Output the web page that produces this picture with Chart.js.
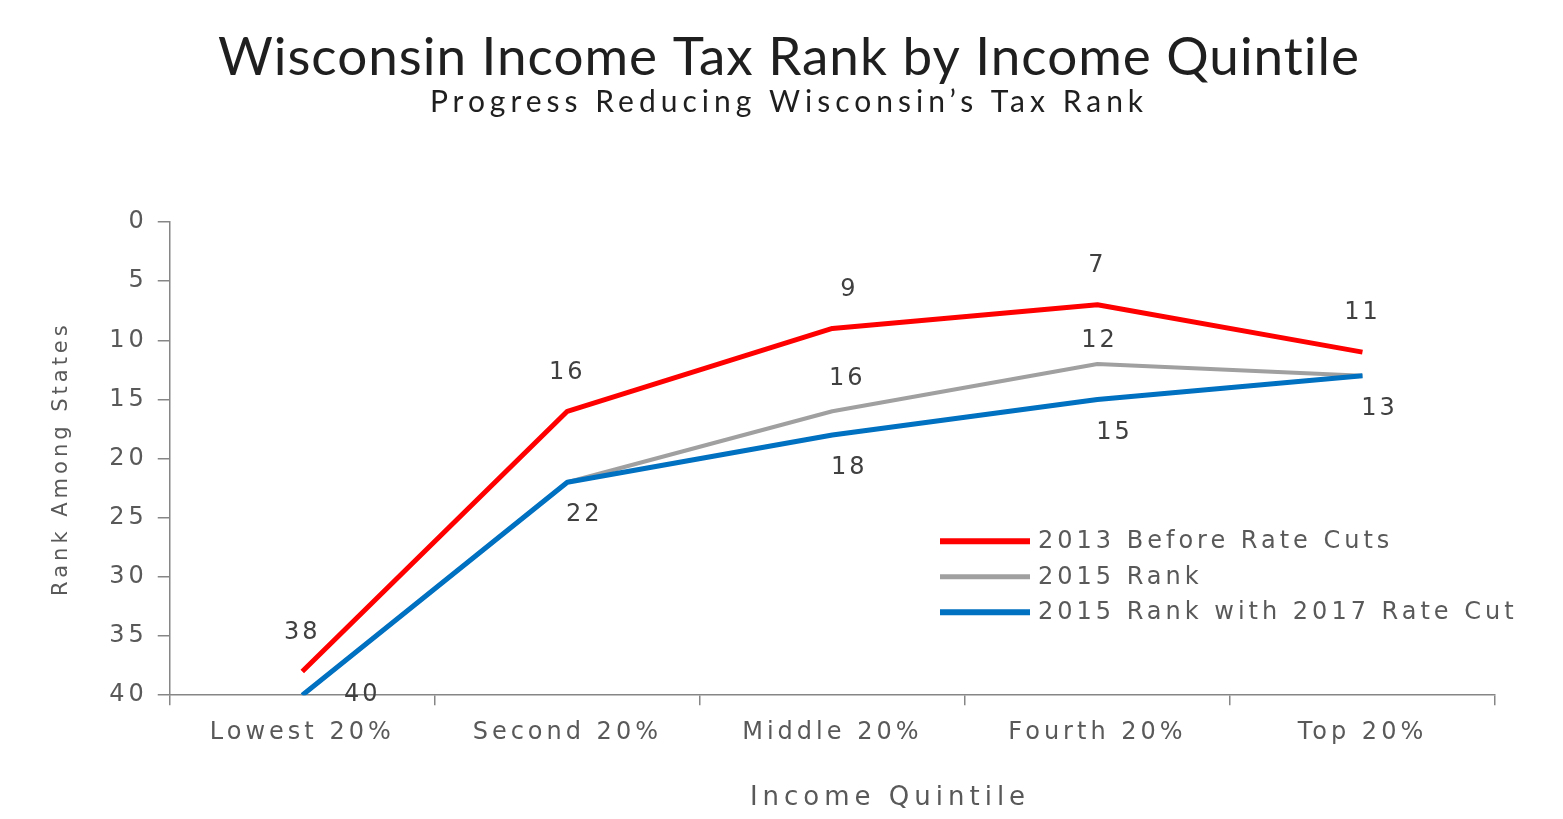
<!DOCTYPE html>
<html>
<head>
<meta charset="utf-8">
<title>Wisconsin Income Tax Rank by Income Quintile</title>
<script src="https://cdn.jsdelivr.net/npm/chart.js"></script>
<style>
  html, body { margin: 0; padding: 0; background: #fff; }
  #wrap { width: 1563px; height: 819px; }
</style>
</head>
<body>
<div id="wrap"><canvas id="myChart"></canvas></div>
<script>
// values
var categories = ['Lowest 20%', 'Second 20%', 'Middle 20%', 'Fourth 20%', 'Top 20%'];
var seriesNames = ['2013 Before Rate Cuts', '2015 Rank', '2015 Rank with 2017 Rate Cut'];
var rank2013 = [38, 16, 9, 7, 11];
var rank2015 = [40, 22, 16, 12, 13];
var rank2015Cut = [40, 22, 18, 15, 13];
var yTicks = [0, 5, 10, 15, 20, 25, 30, 35, 40];

var textFont = '"DejaVu Sans", sans-serif';
var tickGray = '#595959';
var axisGray = '#868686';

// where each value label sits (null = hidden because it overlaps another series)
var labelPlacement = [
    ['above', 'above', 'above', 'above', 'above'],
    [null, null, 'above2', 'above3', null],
    ['right', 'below', 'below', 'below', 'below']
];

var chrome = {
    id: 'chrome',
    beforeUpdate: function (chart) {
        chart.ctx.letterSpacing = '4px';
    },
    afterDraw: function (chart) {
        var ctx = chart.ctx;
        var area = chart.chartArea;
        ctx.save();

        // titles
        ctx.textAlign = 'center';
        ctx.textBaseline = 'middle';
        ctx.fillStyle = '#1f1f1f';
        ctx.letterSpacing = '1px';
        ctx.font = '53px Lato, sans-serif';
        ctx.fillText('Wisconsin Income Tax Rank by Income Quintile', 789, 58);
        ctx.letterSpacing = '5px';
        ctx.font = '30px Lato, sans-serif';
        ctx.fillText('Progress Reducing Wisconsin\u2019s Tax Rank', 789, 102);

        // x axis title (sits right of the plot centre in the original)
        ctx.fillStyle = tickGray;
        ctx.letterSpacing = '5px';
        ctx.font = '26px ' + textFont;
        ctx.fillText('Income Quintile', 890, 798);

        // value labels
        ctx.font = '24px ' + textFont;
        ctx.fillStyle = '#404040';
        ctx.letterSpacing = '3px';
        chart.data.datasets.forEach(function (ds, i) {
            var meta = chart.getDatasetMeta(i);
            meta.data.forEach(function (pt, j) {
                var where = labelPlacement[i][j];
                if (!where) return;
                var dx = 0, dy = 0;
                if (where === 'above') { dy = -39; dx = (j === 2) ? 17 : 0; }
                if (where === 'above2') { dy = -33; dx = 15; }
                if (where === 'above3') { dy = -23; dx = 2; }
                if (where === 'below') { dy = 33; dx = 17; }
                if (where === 'right') { dx = 60; dy = 0; }
                ctx.fillText(String(ds.data[j]), pt.x + dx, pt.y + dy);
            });
        });

        // legend inside the plot
        var lx = area.right - 555, ly = area.bottom - 154;
        ctx.textAlign = 'left';
        ctx.fillStyle = tickGray;
        ctx.letterSpacing = '4px';
        ctx.font = '24px ' + textFont;
        chart.data.datasets.forEach(function (ds, i) {
            var y = ly + i * 35.5;
            ctx.strokeStyle = ds.borderColor;
            ctx.lineWidth = ds.borderWidth + 1;
            ctx.beginPath();
            ctx.moveTo(lx, y);
            ctx.lineTo(lx + 90, y);
            ctx.stroke();
            ctx.fillText(ds.label, lx + 98, y + 1);
        });
        ctx.restore();
    }
};

var config = {
    type: 'line',
    data: {
        labels: categories,
        datasets: [
            { label: seriesNames[0], data: rank2013, borderColor: '#ff0000', borderWidth: 5, order: 0 },
            { label: seriesNames[1], data: rank2015, borderColor: '#a0a0a0', borderWidth: 4, order: 2 },
            { label: seriesNames[2], data: rank2015Cut, borderColor: '#0070c0', borderWidth: 5, order: 1 }
        ]
    },
    options: {
        responsive: true,
        maintainAspectRatio: false,
        animation: false,
        layout: { padding: { top: 222, left: 40, right: 68, bottom: 59 } },
        elements: {
            point: { radius: 0, hoverRadius: 0 },
            line: { tension: 0, borderCapStyle: 'butt', borderJoinStyle: 'round' }
        },
        plugins: {
            legend: { display: false },
            title: { display: false },
            tooltip: { enabled: false }
        },
        scales: {
            x: {
                type: 'category',
                offset: true,
                grid: { offset: true, drawOnChartArea: false, drawTicks: true, tickLength: 10, color: axisGray, lineWidth: 1.5 },
                border: { color: axisGray, width: 1.5 },
                ticks: { color: tickGray, font: { family: textFont, size: 24 }, padding: 13, maxRotation: 0 },
                title: { display: false }
            },
            y: {
                reverse: true,
                min: yTicks[0],
                max: yTicks[yTicks.length - 1],
                afterBuildTicks: function (axis) {
                    axis.ticks = yTicks.map(function (v) { return { value: v }; });
                },
                grid: { drawOnChartArea: false, drawTicks: true, tickLength: 12, color: axisGray, lineWidth: 1.5 },
                border: { color: axisGray, width: 1.5 },
                ticks: { color: tickGray, font: { family: textFont, size: 24 }, padding: 10 },
                title: { display: true, text: 'Rank Among States', color: tickGray, font: { family: textFont, size: 21 }, padding: { top: 9, bottom: 25 } }
            }
        }
    },
    plugins: [chrome]
};

var myChart = new Chart(document.getElementById('myChart'), config);
</script>
</body>
</html>
